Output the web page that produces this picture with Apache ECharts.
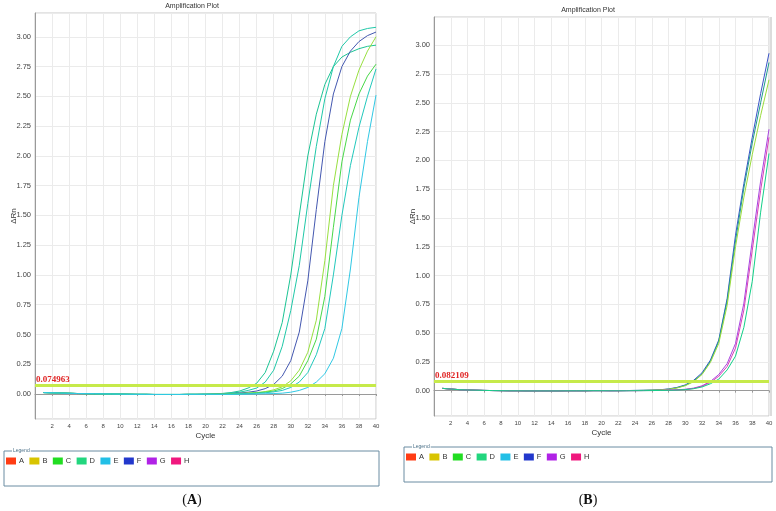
<!DOCTYPE html>
<html>
<head>
<meta charset="utf-8">
<script src="https://cdn.jsdelivr.net/npm/echarts@6/dist/echarts.min.js"></script>
<style>
html, body { margin: 0; padding: 0; background: #fff; }
#main { width: 776px; height: 511px; }
</style>
</head>
<body>
<div id="main"></div>
<script>
// legend wells
var legendNames = ['A', 'B', 'C', 'D', 'E', 'F', 'G', 'H'];
var legendColors = ['#ff3c14', '#d8c400', '#22dd22', '#22d67e', '#22bfe6', '#2238cc', '#b022e6', '#f0187e'];

var thresholdA = 0.074963;
var thresholdB = 0.082109;

// cycles 1-20 (baseline), same for every well of a plate
var baseA = [0.012, 0.01, 0.008, 0.006, 0.004, 0.003, 0.002, 0.001, 0, -0.001,
    -0.002, -0.003, -0.003, -0.004, -0.004, -0.004, -0.004, -0.003, -0.003, -0.002];
var baseB = [0.02, 0.014, 0.009, 0.006, 0.004, 0.002, 0.001, 0, -0.001, -0.001,
    -0.002, -0.002, -0.002, -0.002, -0.002, -0.001, -0.001, -0.001, 0, 0];

// cycles 21-40, plot A
var tailA1 = [0, 0.005, 0.012, 0.025, 0.05, 0.09, 0.18, 0.36, 0.6, 1.0, 1.5, 2.0, 2.35, 2.6, 2.75, 2.83, 2.87, 2.9, 2.92, 2.93];
var tailA2 = [0, 0.003, 0.008, 0.015, 0.03, 0.05, 0.1, 0.2, 0.4, 0.7, 1.08, 1.6, 2.08, 2.48, 2.75, 2.92, 3.0, 3.05, 3.07, 3.08];
var tailA3 = [-0.001, 0.001, 0.004, 0.008, 0.015, 0.025, 0.045, 0.08, 0.15, 0.28, 0.52, 0.95, 1.55, 2.12, 2.52, 2.75, 2.88, 2.96, 3.01, 3.04];
var tailA4 = [-0.001, 0, 0.002, 0.005, 0.008, 0.012, 0.02, 0.035, 0.06, 0.11, 0.2, 0.35, 0.62, 1.12, 1.75, 2.18, 2.5, 2.72, 2.88, 3.0];
var tailA5 = [-0.002, -0.001, 0.001, 0.003, 0.006, 0.01, 0.016, 0.025, 0.045, 0.085, 0.15, 0.28, 0.46, 0.82, 1.4, 1.95, 2.3, 2.52, 2.67, 2.77];
var tailA6 = [-0.002, -0.002, -0.001, 0.001, 0.003, 0.006, 0.01, 0.018, 0.03, 0.055, 0.1, 0.18, 0.33, 0.55, 1.0, 1.5, 1.92, 2.24, 2.5, 2.73];
var tailA7 = [-0.003, -0.003, -0.003, -0.002, -0.001, 0, 0.002, 0.004, 0.007, 0.015, 0.03, 0.055, 0.1, 0.17, 0.3, 0.55, 1.05, 1.65, 2.12, 2.51];

// cycles 21-40, plot B
var tailB1 = [0, 0.001, 0.001, 0.002, 0.003, 0.005, 0.008, 0.015, 0.028, 0.05, 0.09, 0.155, 0.265, 0.44, 0.8, 1.35, 1.8, 2.2, 2.58, 2.93];
var tailB2 = [0, 0, 0.001, 0.002, 0.003, 0.004, 0.007, 0.013, 0.025, 0.046, 0.083, 0.145, 0.255, 0.43, 0.78, 1.3, 1.76, 2.15, 2.5, 2.85];
var tailB3 = [0, 0, 0.001, 0.001, 0.002, 0.004, 0.007, 0.012, 0.023, 0.043, 0.078, 0.14, 0.245, 0.41, 0.74, 1.25, 1.68, 2.05, 2.39, 2.7];
var tailB4 = [-0.001, -0.001, 0, 0, 0.001, 0.002, 0.003, 0.005, 0.008, 0.012, 0.022, 0.042, 0.08, 0.14, 0.235, 0.41, 0.76, 1.3, 1.82, 2.27];
var tailB5 = [-0.001, -0.001, 0, 0, 0.001, 0.001, 0.002, 0.004, 0.007, 0.01, 0.019, 0.038, 0.072, 0.125, 0.21, 0.37, 0.7, 1.22, 1.74, 2.2];
var tailB6 = [-0.001, -0.001, -0.001, 0, 0, 0.001, 0.002, 0.003, 0.005, 0.009, 0.017, 0.032, 0.06, 0.1, 0.18, 0.3, 0.55, 0.95, 1.55, 2.06];

var curvesA = [
    {name: 'A1', color: '#1cc494', tail: tailA1},
    {name: 'A2', color: '#20c8a8', tail: tailA2},
    {name: 'A3', color: '#4458b0', tail: tailA3},
    {name: 'A4', color: '#98e040', tail: tailA4},
    {name: 'A5', color: '#48d848', tail: tailA5},
    {name: 'A6', color: '#22c8bc', tail: tailA6},
    {name: 'A7', color: '#30c8e4', tail: tailA7}
];
var curvesB = [
    {name: 'B1', color: '#3a54c8', tail: tailB1},
    {name: 'B2', color: '#1e9c8c', tail: tailB2},
    {name: 'B3', color: '#9adc3c', tail: tailB3},
    {name: 'B4', color: '#a844e0', tail: tailB4},
    {name: 'B5', color: '#d840b8', tail: tailB5},
    {name: 'B6', color: '#12d088', tail: tailB6}
];

var FONT = "'Liberation Sans', Arial, sans-serif";

function toPairs(values) {
    var out = [];
    for (var i = 0; i < values.length; i++) {
        out.push([i + 1, values[i]]);
    }
    return out;
}

function makeXAxis(idx) {
    return {
        type: 'value', gridIndex: idx, min: 0, max: 40, interval: 2,
        name: 'Cycle', nameLocation: 'middle', nameGap: 13, nameMoveOverlap: false,
        nameTextStyle: {fontFamily: FONT, fontSize: 8, color: '#333'},
        axisLine: {lineStyle: {color: '#9a9a9a'}},
        axisTick: {show: true, length: 2, lineStyle: {color: '#9a9a9a'}},
        axisLabel: {fontFamily: FONT, fontSize: 6, color: '#444', margin: 4, showMinLabel: false},
        splitLine: {show: true, lineStyle: {color: '#ebebeb'}}
    };
}
function makeYAxis(idx, min, max) {
    return {
        type: 'value', gridIndex: idx, min: min, max: max, minInterval: 0.25, maxInterval: 0.25,
        name: '\u0394Rn', nameLocation: 'middle', nameGap: 17, nameMoveOverlap: false,
        nameTextStyle: {fontFamily: FONT, fontSize: 8, color: '#333'},
        axisLine: {show: true, lineStyle: {color: '#9a9a9a'}},
        axisTick: {show: false},
        axisLabel: {
            fontFamily: FONT, fontSize: 7.5, color: '#444', margin: 4,
            showMinLabel: false, showMaxLabel: false,
            formatter: function (v) { return v.toFixed(2); }
        },
        splitLine: {show: true, lineStyle: {color: '#ebebeb'}}
    };
}
function thresholdLine(value) {
    return {
        silent: true, symbol: 'none', precision: 6,
        lineStyle: {color: '#c6ea4a', width: 3, type: 'solid'},
        label: {
            show: true, position: 'insideStartTop', distance: [1, 1],
            formatter: value.toFixed(6),
            color: '#e02424', fontFamily: "'Liberation Serif', 'Times New Roman', serif",
            fontWeight: 'bold', fontSize: 9
        },
        data: [{yAxis: value}]
    };
}

var series = [];
curvesA.forEach(function (c, i) {
    var s = {
        name: c.name, type: 'line', xAxisIndex: 0, yAxisIndex: 0,
        data: toPairs(baseA.concat(c.tail)),
        symbol: 'none', color: c.color, lineStyle: {width: 1, color: c.color}
    };
    if (i === 0) s.markLine = thresholdLine(thresholdA);
    series.push(s);
});
curvesB.forEach(function (c, i) {
    var s = {
        name: c.name, type: 'line', xAxisIndex: 1, yAxisIndex: 1,
        data: toPairs(baseB.concat(c.tail)),
        symbol: 'none', color: c.color, lineStyle: {width: 1, color: c.color}
    };
    if (i === 0) s.markLine = thresholdLine(thresholdB);
    series.push(s);
});
// legend entries (wells)
legendNames.forEach(function (n, i) {
    series.push({name: n, type: 'line', xAxisIndex: 0, yAxisIndex: 0, data: [], color: legendColors[i]});
});

var legendData = legendNames.map(function (n) { return {name: n, icon: 'rect'}; });
function makeLegend(left, top) {
    return {
        data: legendData, left: left, top: top, orient: 'horizontal',
        itemWidth: 10, itemHeight: 7, itemGap: 5.4, padding: 0,
        selectedMode: false,
        textStyle: {fontFamily: FONT, fontSize: 7.5, color: '#333', padding: [0, 0, 0, -2]}
    };
}

function titleText(x, y, text) {
    return {
        type: 'text', x: x, y: y,
        style: {text: text, fontFamily: FONT, fontSize: 7, fill: '#333', align: 'center', verticalAlign: 'middle'}
    };
}
function legendBox(x, y, w, h) {
    return [
        {type: 'rect', shape: {x: x, y: y, width: w, height: h}, style: {fill: 'none', stroke: '#6a8ca2', lineWidth: 1}},
        {type: 'text', x: x + 8, y: y, style: {text: 'Legend', fontFamily: FONT, fontSize: 5, fill: '#4a7088',
            backgroundColor: '#fff', padding: [0, 1], verticalAlign: 'middle'}}
    ];
}
function caption(x, y, letter) {
    return {
        type: 'text', x: x, y: y,
        style: {
            text: '{p|(}{b|' + letter + '}{p|)}', align: 'center', verticalAlign: 'middle',
            rich: {
                p: {fontFamily: "'Liberation Serif', serif", fontSize: 14, fill: '#111'},
                b: {fontFamily: "'Liberation Serif', serif", fontSize: 14, fontWeight: 'bold', fill: '#111'}
            }
        }
    };
}

var option = {
    animation: false,
    backgroundColor: '#fff',
    grid: [
        {left: 35, top: 13, width: 341, height: 406, show: true, borderColor: '#c8c8c8', borderWidth: 1},
        {left: 434, top: 17, width: 335, height: 399, show: true, borderColor: '#c8c8c8', borderWidth: 1}
    ],
    xAxis: [makeXAxis(0), makeXAxis(1)],
    yAxis: [makeYAxis(0, -0.21, 3.2), makeYAxis(1, -0.22, 3.245)],
    legend: [makeLegend(6, 457), makeLegend(406, 453)],
    graphic: [
        titleText(192, 6, 'Amplification Plot'),
        titleText(588, 10, 'Amplification Plot'),
        {type: 'rect', shape: {x: 769, y: 17, width: 3, height: 399}, style: {fill: '#dcdcdc'}}
    ].concat(legendBox(4, 451, 375, 35), legendBox(404, 447, 368, 35), [
        caption(192, 500, 'A'),
        caption(588, 500, 'B')
    ]),
    series: series
};

var chart = echarts.init(document.getElementById('main'));
chart.setOption(option);
</script>
</body>
</html>
